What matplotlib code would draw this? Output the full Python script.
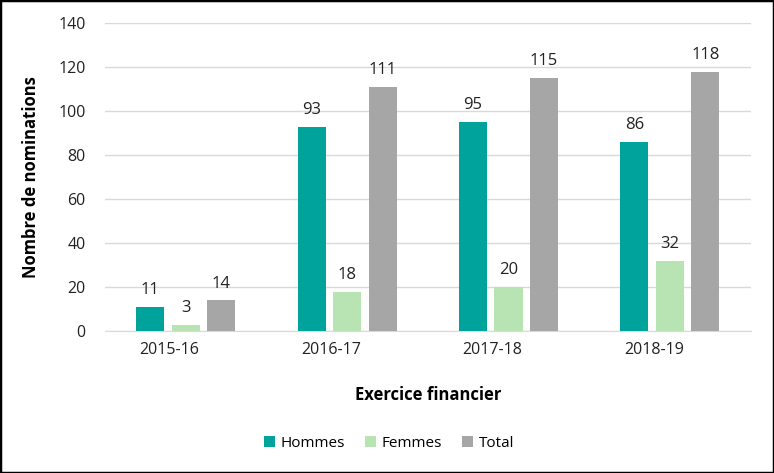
import matplotlib.pyplot as plt
import numpy as np

plt.rcParams['font.family'] = ['Open Sans', 'DejaVu Sans']

years = ['2015-16', '2016-17', '2017-18', '2018-19']
hommes = [11, 93, 95, 86]
femmes = [3, 18, 20, 32]
total = [14, 111, 115, 118]

series = [('Hommes', hommes, '#00A39B'),
          ('Femmes', femmes, '#B8E4B4'),
          ('Total', total, '#A6A6A6')]

fig = plt.figure(figsize=(7.74, 4.73), dpi=100)
ax = fig.add_axes([0.1357, 0.300, 0.834, 0.651])

x = np.arange(len(years))
step = 0.22
width = 0.174
for i, (name, vals, color) in enumerate(series):
    pos = x + (i - 1) * step
    bars = ax.bar(pos, vals, width, color=color, label=name, zorder=3)
    for b, v in zip(bars, vals):
        ax.text(b.get_x() + b.get_width() / 2, v + 4, str(v),
                ha='center', va='bottom', fontsize=12, color='#222222')

ax.set_xlim(-0.5, len(years) - 0.5)
ax.set_ylim(0, 140)
ax.set_yticks(range(0, 141, 20))
ax.set_xticks(x - 0.1)
ax.set_xticklabels(years)
ax.tick_params(axis='both', length=0, labelsize=11.5, colors='#222222')
ax.tick_params(axis='y', pad=14)
ax.tick_params(axis='x', pad=8)
ax.grid(axis='y', color='#D9D9D9', linewidth=1, zorder=0)
for s in ['top', 'right', 'left']:
    ax.spines[s].set_visible(False)
ax.spines['bottom'].set_color('#D9D9D9')

ax.set_xlabel('Exercice financier', fontsize=12, fontweight='bold', labelpad=20)
ax.set_ylabel('Nombre de nominations', fontsize=12, fontweight='bold', labelpad=13)

ax.legend(loc='upper center', bbox_to_anchor=(0.44, -0.295), ncol=3, frameon=False,
          fontsize=11, handlelength=0.7, handleheight=0.7, columnspacing=1.3,
          handletextpad=0.4)

fig.patches.append(plt.Rectangle((0, 0), 1, 1, transform=fig.transFigure,
                                 fill=False, edgecolor='black', linewidth=2.5))

fig.savefig('out.png', dpi=100)
